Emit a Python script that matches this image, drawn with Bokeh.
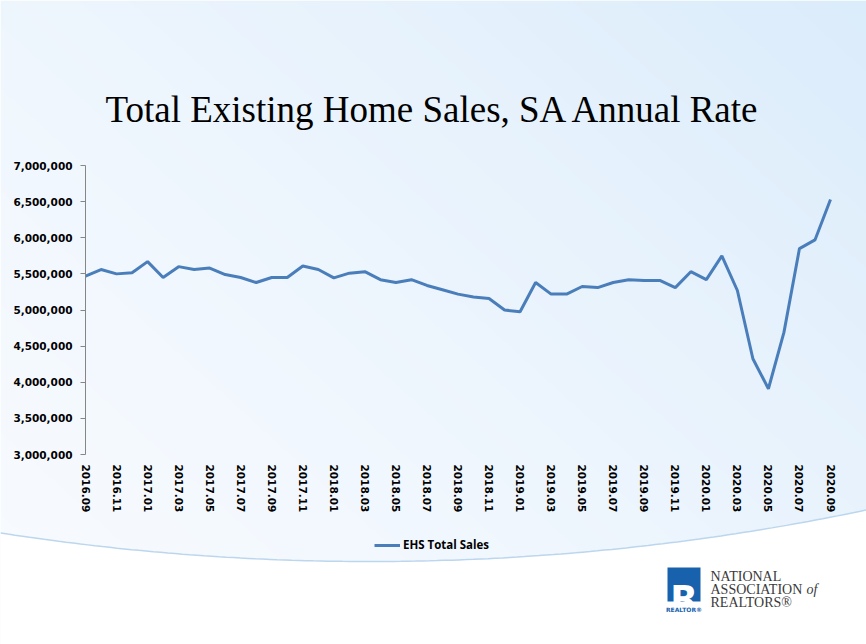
import math
import numpy as np
from bokeh.plotting import figure
from bokeh.models import (Range1d, LinearAxis, FixedTicker, NumeralTickFormatter,
                          Legend, LegendItem)
from bokeh.core.properties import value
from bokeh.embed import file_html
from bokeh.resources import INLINE

# ---- data: total existing-home sales, seasonally adjusted annual rate ----
months = [
    "2016.09", "2016.10", "2016.11", "2016.12",
    "2017.01", "2017.02", "2017.03", "2017.04", "2017.05", "2017.06",
    "2017.07", "2017.08", "2017.09", "2017.10", "2017.11", "2017.12",
    "2018.01", "2018.02", "2018.03", "2018.04", "2018.05", "2018.06",
    "2018.07", "2018.08", "2018.09", "2018.10", "2018.11", "2018.12",
    "2019.01", "2019.02", "2019.03", "2019.04", "2019.05", "2019.06",
    "2019.07", "2019.08", "2019.09", "2019.10", "2019.11", "2019.12",
    "2020.01", "2020.02", "2020.03", "2020.04", "2020.05", "2020.06",
    "2020.07", "2020.08", "2020.09",
]
ehs_total_sales = [
    5470000, 5560000, 5500000, 5515000, 5670000, 5450000, 5600000, 5560000,
    5580000, 5490000, 5450000, 5380000, 5450000, 5450000, 5610000, 5560000,
    5445000, 5510000, 5530000, 5420000, 5380000, 5420000, 5340000, 5280000,
    5220000, 5180000, 5160000, 5000000, 4975000, 5380000, 5220000, 5220000,
    5325000, 5310000, 5380000, 5420000, 5410000, 5410000, 5310000, 5530000,
    5420000, 5750000, 5270000, 4325000, 3910000, 4690000, 5850000, 5970000,
    6530000,
]
y_ticks = [3000000, 3500000, 4000000, 4500000, 5000000, 5500000,
           6000000, 6500000, 7000000]
x_tick_idx = list(range(0, len(months), 2))

W, H = 866, 644
# plot area in page pixels (from top-left)
X0_PX, X1_PX = 85.0, 830.0        # first / last month
YTOP_PX, YBOT_PX = 165.0, 454.0   # 7,000,000 / 3,000,000
n = len(months) - 1
per_x = (X1_PX - X0_PX) / n
per_y = (YBOT_PX - YTOP_PX) / (y_ticks[-1] - y_ticks[0])

x_start = -X0_PX / per_x
x_end = n + (W - X1_PX) / per_x
y_end = y_ticks[-1] + YTOP_PX / per_y
y_start = y_ticks[0] - (H - YBOT_PX) / per_y

p = figure(width=W, height=H, output_backend="svg", toolbar_location=None,
           x_range=Range1d(x_start, x_end), y_range=Range1d(y_start, y_end),
           x_axis_type=None, y_axis_type=None, min_border=0,
           outline_line_color=None, border_fill_color="white",
           background_fill_color="white")
p.xgrid.visible = False
p.ygrid.visible = False
p.extra_x_ranges = {"px": Range1d(0, W)}
p.extra_y_ranges = {"px": Range1d(0, H)}


def up(y_top):
    return H - y_top


# ---- slide background: soft diagonal blue gradient ----
gw, gh = W // 2, H // 2
gx = np.linspace(0, 1, gw)[None, :]
gy = np.linspace(0, 1, gh)[:, None]          # 0 = bottom, 1 = top
t = np.clip(0.55 * gx + 0.45 * gy, 0, 1) ** 1.4
c0 = np.array([248, 251, 255])
c1 = np.array([219, 236, 251])
rgb = (c0[None, None, :] * (1 - t[..., None]) + c1[None, None, :] * t[..., None]).astype(np.uint32)
img = (255 << 24) | (rgb[..., 2] << 16) | (rgb[..., 1] << 8) | rgb[..., 0]
p.image_rgba(image=[img], x=0, y=0, dw=W, dh=H,
             x_range_name="px", y_range_name="px")

# white footer below a shallow arc
R_ARC, XC_ARC, YLOW_ARC = 2412.0, 370.0, 561.0
ax = np.linspace(0, W, 120)
ay_top = YLOW_ARC - (R_ARC - np.sqrt(R_ARC ** 2 - (ax - XC_ARC) ** 2))
p.patch(x=np.concatenate([ax, [W, 0]]),
        y=np.concatenate([up(ay_top), [0, 0]]),
        fill_color="white", line_color=None,
        x_range_name="px", y_range_name="px")
p.line(x=ax, y=up(ay_top), line_color="#bcd6ee", line_width=1.5,
       x_range_name="px", y_range_name="px")

# ---- series ----
r = p.line(x=list(range(len(months))), y=ehs_total_sales,
           line_color="#4a7ebb", line_width=3)

# ---- axes ----
lab_font = "DejaVu Sans"
yaxis = LinearAxis(fixed_location=0, bounds=(y_ticks[0], y_ticks[-1]),
                   ticker=FixedTicker(ticks=y_ticks),
                   formatter=NumeralTickFormatter(format="0,0"))
yaxis.axis_line_color = "#868686"
yaxis.major_tick_line_color = "#868686"
yaxis.major_tick_out = 5
yaxis.major_tick_in = 0
yaxis.minor_tick_line_color = None
yaxis.major_label_standoff = 8
yaxis.major_label_text_font = lab_font
yaxis.major_label_text_font_style = "bold"
yaxis.major_label_text_font_size = "10.5px"
yaxis.major_label_text_color = "#000000"
p.add_layout(yaxis, "left")

xaxis = LinearAxis(fixed_location=y_ticks[0], bounds=(0, n),
                   ticker=FixedTicker(ticks=x_tick_idx),
                   major_label_overrides={i: months[i] for i in x_tick_idx})
xaxis.axis_line_color = None
xaxis.major_tick_line_color = None
xaxis.major_tick_out = 0
xaxis.major_tick_in = 0
xaxis.minor_tick_line_color = None
xaxis.major_label_orientation = -math.pi / 2
xaxis.major_label_standoff = 10
xaxis.major_label_text_font = lab_font
xaxis.major_label_text_font_style = "bold"
xaxis.major_label_text_font_size = "10.5px"
xaxis.major_label_text_color = "#000000"
p.add_layout(xaxis, "below")

# ---- legend ----
legend = Legend(items=[LegendItem(label="EHS Total Sales", renderers=[r])],
                location=(374, up(552)), orientation="horizontal",
                padding=0, margin=0, spacing=0,
                glyph_width=26, glyph_height=14, label_height=14,
                label_standoff=3,
                label_text_font="Open Sans", label_text_font_style="bold",
                label_text_font_size="11.5px", label_text_color="#000000",
                border_line_color=None, background_fill_alpha=0)
p.add_layout(legend, "center")

# ---- title ----
p.text(x=[433], y=[up(109)], text=["Total Existing Home Sales, SA Annual Rate"],
       text_align="center", text_baseline="alphabetic",
       text_font=value("Liberation Serif"), text_font_size="37px",
       text_color="#000000", x_range_name="px", y_range_name="px")

# ---- association mark ----
p.quad(left=[667], right=[700], top=[up(567)], bottom=[up(601)],
       fill_color="#1862ad", line_color=None,
       x_range_name="px", y_range_name="px")
p.text(x=[683.5], y=[up(598)], text=["R"], text_align="center",
       text_baseline="alphabetic", text_font=value("DejaVu Sans"),
       text_font_style="bold", text_font_size="36px", text_color="white",
       x_range_name="px", y_range_name="px")
p.text(x=[683.5], y=[up(609)], text=["REALTOR®"], text_align="center",
       text_baseline="alphabetic", text_font=value("DejaVu Sans"),
       text_font_style="bold", text_font_size="6px", text_color="#1862ad",
       x_range_name="px", y_range_name="px")
p.text(x=[710, 710, 710], y=[up(576), up(589), up(602)],
       text=["NATIONAL", "ASSOCIATION", "REALTORS®"],
       text_align="left", text_baseline="alphabetic",
       text_font=value("Liberation Serif"), text_font_size="14px",
       text_color="#3a3a3a", x_range_name="px", y_range_name="px")
p.text(x=[806], y=[up(589)], text=["of"], text_align="left",
       text_baseline="alphabetic", text_font=value("Liberation Serif"),
       text_font_style="italic", text_font_size="14px",
       text_color="#3a3a3a", x_range_name="px", y_range_name="px")

open("out.html", "w").write(file_html(p, INLINE))
